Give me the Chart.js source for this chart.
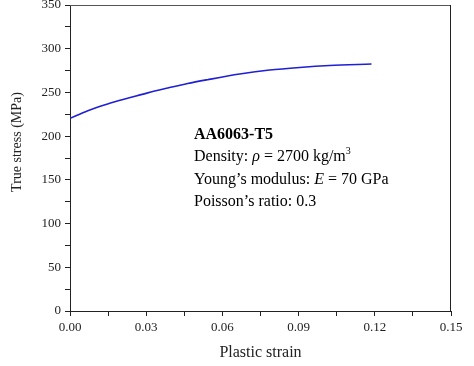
<!DOCTYPE html>
<html>
<head>
<meta charset="utf-8">
<script src="https://cdn.jsdelivr.net/npm/chart.js@4"></script>
<style>
  html,body{margin:0;padding:0;background:#fff}
  #wrap{width:474px;height:366px}
</style>
</head>
<body>
<div id="wrap"><canvas id="c" width="474" height="366"></canvas></div>
<script>
// values
const strain=[0,0.007,0.0148,0.0227,0.0306,0.0385,0.0463,0.0542,0.0668,0.0786,0.0904,0.1022,0.1187];
const stress=[220.4,229.1,236.8,243.3,249.5,255.0,260.2,264.6,271.0,275.6,278.6,280.8,282.5];
const xTicks=[0,0.015,0.03,0.045,0.06,0.075,0.09,0.105,0.12,0.135,0.15];
const yMajor=[0,50,100,150,200,250,300,350];
const xTitle='Plastic strain';
const yTitle='True stress (MPa)';
// annotation: [text, style] runs per line
const noteLines=[
  [['AA6063-T5','bold']],
  [['Density: ',''],['\u03c1','italic'],[' = 2700 kg/m',''],['3','sup']],
  [['Young\u2019s modulus: ',''],['E','italic'],[' = 70 GPa','']],
  [['Poisson\u2019s ratio: 0.3','']]
];

const SERIF='"Liberation Serif","Times New Roman",serif';
const INK='#222';

const frame={id:'frame',afterDraw(chart){
  const{ctx,chartArea:{left,right,top,bottom}}=chart;
  ctx.save();
  ctx.strokeStyle='#555';ctx.lineWidth=1;
  ctx.beginPath();ctx.moveTo(left,top+0.5);ctx.lineTo(right,top+0.5);ctx.stroke();
  ctx.strokeStyle=INK;
  ctx.beginPath();ctx.moveTo(right-0.5,top);ctx.lineTo(right-0.5,bottom);ctx.stroke();
  // y title, drawn here so it can sit a bit above centre like the original
  ctx.fillStyle=INK;ctx.font='14px '+SERIF;
  ctx.translate(17,142);ctx.rotate(-Math.PI/2);
  ctx.textAlign='center';ctx.textBaseline='middle';
  ctx.fillText(yTitle,0,0);
  ctx.restore();
}};

const note={id:'note',afterDraw(chart){
  const{ctx}=chart;
  ctx.save();ctx.fillStyle='#000';ctx.textBaseline='alphabetic';
  let y=139;
  noteLines.forEach(line=>{
    let x=194;
    line.forEach(([t,s])=>{
      if(s==='bold') ctx.font='bold 16px '+SERIF;
      else if(s==='italic') ctx.font='italic 16px '+SERIF;
      else if(s==='sup') ctx.font='10px '+SERIF;
      else ctx.font='16px '+SERIF;
      ctx.fillText(t,x,s==='sup'?y-7:y);
      x+=ctx.measureText(t).width;
    });
    y+=22.3;
  });
  ctx.restore();
}};

new Chart(document.getElementById('c'),{
  type:'scatter',
  data:{datasets:[{
    data:strain.map((s,i)=>({x:s,y:stress[i]})),
    showLine:true,borderColor:'#1f1fd6',borderWidth:1.6,pointRadius:0,
    cubicInterpolationMode:'monotone',fill:false
  }]},
  options:{
    responsive:false,animation:false,
    layout:{padding:{left:0,top:5,right:23,bottom:0}},
    plugins:{legend:{display:false},tooltip:{enabled:false}},
    scales:{
      x:{
        type:'linear',min:0,max:0.15,
        afterBuildTicks:s=>{s.ticks=xTicks.map(v=>({value:v}));},
        ticks:{color:INK,font:{family:SERIF,size:13},padding:4,maxRotation:0,autoSkip:false,
          callback:v=>Math.round(v*1000)%30===0?v.toFixed(2):''},
        grid:{drawOnChartArea:false,drawTicks:true,tickLength:5,tickColor:INK},
        border:{color:INK,width:1},
        title:{display:true,text:xTitle,color:INK,font:{family:SERIF,size:16},padding:{top:6}},
        afterFit:s=>{s.height=55;s.paddingLeft=0;s.paddingRight=0;}
      },
      y:{
        min:0,max:350,
        ticks:{stepSize:25,color:INK,font:{family:SERIF,size:13},padding:4,autoSkip:false,
          callback:v=>yMajor.includes(v)?String(v):''},
        grid:{drawOnChartArea:false,drawTicks:true,tickLength:5,tickColor:INK},
        border:{color:INK,width:1},
        afterFit:s=>{s.width=70;s.paddingTop=0;s.paddingBottom=0;}
      }
    }
  },
  plugins:[frame,note]
});
</script>
</body>
</html>
